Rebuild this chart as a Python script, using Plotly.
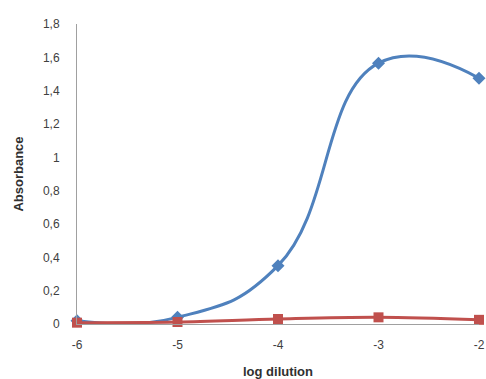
import plotly.graph_objects as go

x_vals = [-6, -5, -4, -3, -2]
series_blue = [0.02, 0.04, 0.35, 1.565, 1.475]
series_red = [0.008, 0.012, 0.03, 0.04, 0.025]
y_ticks = [0, 0.2, 0.4, 0.6, 0.8, 1, 1.2, 1.4, 1.6, 1.8]

fig = go.Figure()
fig.add_trace(go.Scatter(
    x=x_vals, y=series_blue, mode="lines+markers",
    line=dict(color="#4F81BD", width=3, shape="spline", smoothing=1.3),
    marker=dict(symbol="diamond", size=10, color="#4F81BD"),
    showlegend=False, cliponaxis=False))
fig.add_trace(go.Scatter(
    x=x_vals, y=series_red, mode="lines+markers",
    line=dict(color="#C0504D", width=3, shape="spline", smoothing=1.0),
    marker=dict(symbol="square", size=10, color="#C0504D"),
    showlegend=False, cliponaxis=False))

fig.update_layout(
    width=486, height=379,
    margin=dict(l=77, r=7, t=24, b=55),
    paper_bgcolor="white", plot_bgcolor="white",
    separators=",.",
    font=dict(family="Liberation Sans", size=12, color="#404040"),
    xaxis=dict(
        range=[-6, -2], tickvals=x_vals, ticktext=[str(v) for v in x_vals],
        showgrid=False, zeroline=False, showline=True, linecolor="#A0A0A0", linewidth=1,
        ticks="", ticklabelstandoff=10, automargin=False,
        title=dict(text="<b>log dilution</b>", font=dict(size=13, color="#303030"), standoff=16),
    ),
    yaxis=dict(
        range=[0, 1.8], tickvals=y_ticks, tickformat="~r",
        showgrid=False, zeroline=False, showline=True, linecolor="#A0A0A0", linewidth=1,
        ticks="", ticklabelstandoff=14, automargin=False,
        title=dict(text="<b>Absorbance</b>", font=dict(size=13, color="#303030"), standoff=16),
    ),
)
fig.write_html("out.html")
